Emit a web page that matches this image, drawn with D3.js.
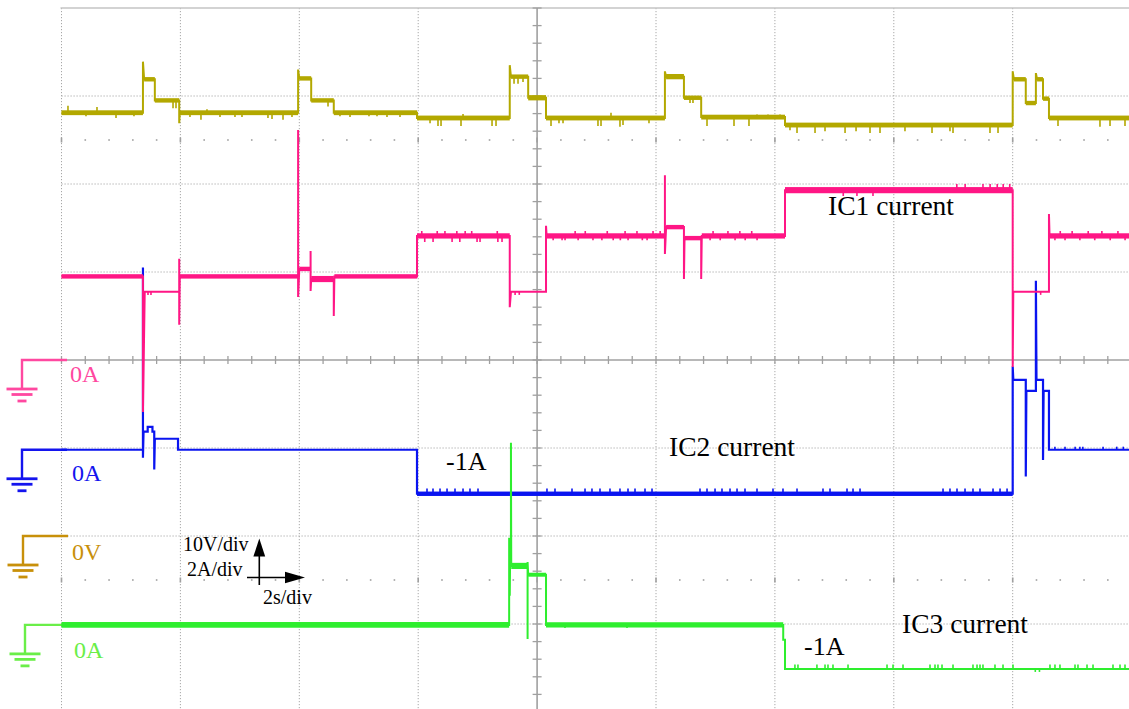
<!DOCTYPE html>
<html>
<head>
<meta charset="utf-8">
<script src="https://cdn.jsdelivr.net/npm/d3@7"></script>
<style>
  html, body { margin: 0; padding: 0; background: #fff; }
  svg { display: block; }
  text { font-family: "Liberation Serif", "Times New Roman", serif; }
</style>
</head>
<body>
<svg id="scope" width="1129" height="709"></svg>
<script>
// ---- Scope settings -------------------------------------------------------
const secPerDiv = 2;
const voltsPerDiv = 10;
const ampsPerDiv = 2;

// ---- Bus voltage [time s, volts] ------------------------------------------
const busVoltage = [
  [0, 48.1], [1.37, 48.1], [1.37, 53.9], [1.39, 51.9], [1.57, 51.9], [1.57, 49.5],
  [1.98, 49.5], [1.98, 46.9], [1.99, 48.1], [3.98, 48.1], [3.98, 53.0], [4.0, 52.0],
  [4.2, 52.0], [4.2, 49.5], [4.58, 49.5], [4.58, 48.1], [5.98, 48.1], [5.98, 47.5],
  [7.54, 47.5], [7.54, 53.5], [7.56, 52.2], [7.85, 52.2], [7.85, 49.8], [8.15, 49.8],
  [8.15, 47.5], [10.15, 47.5], [10.15, 52.8], [10.17, 52.2], [10.47, 52.2], [10.47, 49.8],
  [10.76, 49.8], [10.76, 47.6], [12.17, 47.6], [12.17, 46.7], [16.0, 46.7], [16.0, 52.8],
  [16.02, 51.9], [16.22, 51.9], [16.22, 49.2], [16.39, 49.2], [16.39, 52.6], [16.41, 51.9],
  [16.51, 51.9], [16.51, 49.7], [16.61, 49.7], [16.61, 47.5], [18, 47.5]
];
// ripple bands [from s, to s, peak-to-peak V]
const busRipple = [
  [0, 1.37, 0.55], [1.39, 1.57, 0.5], [1.57, 1.98, 0.5], [1.99, 3.98, 0.55], [4.0, 4.2, 0.5],
  [4.2, 4.58, 0.5], [4.58, 5.98, 0.55], [5.98, 7.54, 0.55], [7.56, 7.85, 0.5], [7.85, 8.15, 0.6],
  [8.15, 10.15, 0.55], [10.17, 10.47, 0.6], [10.47, 10.76, 0.5], [10.76, 12.17, 0.55],
  [12.17, 16.0, 0.55], [16.02, 16.22, 0.5], [16.22, 16.39, 0.5], [16.41, 16.51, 0.5],
  [16.51, 16.61, 0.5], [16.61, 18, 0.55]
];
// short glitches [time s, volts]
const busGlitches = [
  [0.109, 48.9], [0.412, 47.7], [0.597, 48.75], [0.917, 47.5], [1.219, 47.7],
  [1.876, 48.6], [1.926, 48.6], [2.161, 47.6], [2.346, 47.3], [2.447, 48.5], [2.666, 47.6],
  [2.918, 47.6], [3.036, 47.6], [3.473, 47.5], [3.541, 47.4], [3.726, 47.3], [3.877, 47.6],
  [4.483, 48.8], [4.684, 47.7], [4.853, 47.6], [5.172, 47.7], [5.307, 47.7], [5.475, 47.6],
  [5.694, 47.6], [6.199, 46.9], [6.333, 46.6], [6.384, 46.6], [6.720, 46.6], [6.754, 47.95],
  [7.242, 46.6], [7.309, 46.6], [7.612, 51.4], [7.679, 51.4], [7.763, 51.6],
  [8.234, 46.6], [8.368, 46.9], [8.436, 46.9], [9.024, 46.6], [9.075, 46.6], [9.243, 48.1],
  [9.394, 46.5], [9.445, 46.7], [9.882, 46.9], [10.572, 49.2], [10.622, 49.2],
  [10.858, 46.6], [11.312, 46.6], [11.564, 46.6], [11.699, 47.9], [11.884, 47.9], [12.086, 47.9],
  [12.254, 46.1], [12.372, 45.8], [12.675, 45.8], [12.843, 46.0], [13.180, 45.8], [13.365, 46.0],
  [13.600, 45.8], [13.768, 45.8], [14.188, 46.0], [14.643, 45.8], [14.945, 46.0], [14.996, 45.8],
  [15.618, 45.8], [15.753, 45.8], [16.762, 46.6], [17.468, 46.5], [17.637, 46.6], [17.889, 46.6]
];

// ---- IC1 current [time s, amps] -------------------------------------------
const ic1Current = [
  [0, 1.9], [1.37, 1.9], [1.37, -1.18], [1.40, 1.55], [1.98, 1.55], [1.98, 2.3], [1.98, 0.8],
  [1.99, 1.9], [3.98, 1.9], [3.98, 5.23], [3.98, 1.43], [4.0, 2.07], [4.19, 2.07], [4.19, 2.48],
  [4.19, 1.57], [4.2, 1.84], [4.58, 1.84], [4.58, 1.0], [4.59, 1.9], [5.98, 1.9], [5.98, 2.82],
  [7.54, 2.82], [7.54, 1.2], [7.56, 1.55], [8.15, 1.55], [8.15, 3.05], [8.16, 2.82],
  [10.15, 2.82], [10.15, 4.2], [10.15, 2.41], [10.17, 3.02], [10.47, 3.02], [10.47, 1.84],
  [10.48, 2.77], [10.76, 2.77], [10.76, 1.84], [10.77, 2.82], [12.17, 2.82], [12.17, 3.86],
  [16.0, 3.86], [16.0, -0.16], [16.01, 1.55], [16.61, 1.55], [16.61, 3.32], [16.62, 2.82],
  [18, 2.82]
];
const ic1Ripple = [
  [0, 1.37, 0.1], [1.99, 3.98, 0.1], [4.0, 4.19, 0.1], [4.2, 4.58, 0.14], [4.59, 5.98, 0.1],
  [5.98, 7.54, 0.12], [8.16, 10.15, 0.12], [10.17, 10.47, 0.1], [10.48, 10.76, 0.1],
  [10.77, 12.17, 0.12], [12.17, 16.0, 0.14], [16.62, 18, 0.12]
];
const ic1Glitches = [
  [1.455, 1.48], [1.505, 1.48],
  [6.06, 2.93], [6.11, 2.68], [6.25, 2.68], [6.32, 2.93], [6.45, 2.93], [6.57, 2.68],
  [6.65, 2.93], [6.70, 2.68], [6.79, 2.93], [6.90, 2.93], [6.99, 2.68], [7.04, 2.68],
  [7.33, 2.93], [7.34, 2.68], [7.41, 2.68], [7.63, 1.48], [7.70, 1.48],
  [8.27, 2.72], [8.42, 2.72], [8.47, 2.72], [8.64, 2.93], [8.69, 2.72], [8.81, 2.93],
  [8.94, 2.72], [9.09, 2.72], [9.18, 2.93], [9.28, 2.72], [9.40, 2.72], [9.48, 2.93],
  [9.53, 2.72], [9.68, 2.93], [9.77, 2.72], [9.85, 2.72], [9.95, 2.93], [10.07, 2.93],
  [10.91, 2.72], [10.96, 2.93], [11.08, 2.72], [11.21, 2.93], [11.33, 2.72], [11.41, 2.93],
  [11.50, 2.72], [11.61, 2.93], [11.70, 2.72],
  [13.15, 3.73], [13.38, 3.73], [13.65, 3.73], [15.06, 4.0], [15.20, 4.0], [15.50, 4.0],
  [15.62, 4.0], [15.74, 4.0], [15.84, 4.0], [15.95, 4.0], [16.47, 1.48],
  [16.71, 2.72], [16.80, 2.93], [16.88, 2.72], [17.00, 2.93], [17.13, 2.72], [17.27, 2.93],
  [17.38, 2.72], [17.50, 2.93], [17.64, 2.72], [17.77, 2.93], [17.89, 2.72]
];

// ---- IC2 current [time s, amps] -------------------------------------------
const ic2Current = [
  [0, 0], [1.37, 0], [1.37, 4.14], [1.37, -0.18], [1.38, 0.41], [1.45, 0.41], [1.45, 0.52],
  [1.53, 0.52], [1.53, 0.41], [1.56, 0.41], [1.56, -0.45], [1.57, 0.25], [1.96, 0.25],
  [1.96, 0], [5.98, 0], [5.98, -1], [16.0, -1], [16.0, 1.89], [16.01, 1.59], [16.22, 1.59],
  [16.22, -0.61], [16.23, 1.34], [16.39, 1.34], [16.39, 3.84], [16.40, 1.59], [16.51, 1.59],
  [16.51, -0.23], [16.52, 1.34], [16.61, 1.34], [16.61, 0], [18, 0]
];
const ic2Ripple = [[5.98, 16.0, 0.1]];
const ic2Glitches = [
  [6.148, -0.88], [6.249, -0.88], [6.367, -0.88], [6.485, -0.88], [6.619, -0.88], [6.754, -0.88],
  [6.871, -0.88], [7.006, -0.88], [8.166, -0.88], [8.301, -0.88], [8.587, -0.88], [8.806, -0.88],
  [8.923, -0.88], [9.058, -0.88], [9.226, -0.88], [9.394, -0.88], [9.529, -0.88], [9.647, -0.88],
  [9.815, -0.88], [9.933, -0.88], [10.740, -0.88], [10.858, -0.88], [10.993, -0.88],
  [11.110, -0.88], [11.245, -0.88], [11.363, -0.88], [11.497, -0.88], [11.699, -0.88],
  [11.968, -0.88], [12.136, -0.88], [12.372, -0.88], [12.809, -0.88], [12.927, -0.88],
  [13.213, -0.88], [13.314, -0.88], [13.432, -0.88], [14.828, -0.88], [14.945, -0.88],
  [15.063, -0.88], [15.198, -0.88], [15.332, -0.88], [15.450, -0.88], [15.669, -0.88],
  [15.787, -0.88], [15.905, -0.88],
  [16.71, 0.07], [16.88, 0.07], [17.05, 0.07], [17.13, 0.07], [17.18, 0.07], [17.52, 0.07],
  [17.75, 0.07], [17.86, 0.07]
];

// ---- IC3 current [time s, amps] -------------------------------------------
const ic3Current = [
  [0, 0], [7.53, 0], [7.53, 1.98], [7.54, 0.66], [7.545, 1.34], [7.56, 1.34], [7.56, 4.14],
  [7.565, 1.34], [7.84, 1.34], [7.84, -0.32], [7.84, 1.43], [7.85, 1.14], [8.15, 1.14],
  [8.15, 0], [12.14, 0], [12.14, -0.34], [12.17, -0.34], [12.17, -1], [18, -1]
];
const ic3Ripple = [[0, 7.53, 0.13], [7.565, 7.84, 0.14], [7.85, 8.15, 0.09], [8.15, 12.14, 0.12]];
const ic3Glitches = [
  [8.469, -0.07], [9.512, -0.07],
  [12.337, -0.9], [12.388, -0.9], [12.707, -0.9], [12.843, -0.9], [12.893, -0.9], [12.977, -0.9],
  [13.230, -0.9], [13.886, -0.9], [13.987, -0.9], [14.155, -0.9], [14.609, -0.9], [14.693, -0.9],
  [14.743, -0.9], [14.811, -0.9], [14.996, -0.9], [15.332, -0.9], [15.400, -0.9], [15.450, -0.9],
  [15.500, -0.9], [15.702, -0.9], [15.837, -0.9], [16.005, -0.9], [16.38, -1.07], [16.45, -1.07],
  [16.627, -0.9], [16.711, -0.9], [16.795, -0.9], [17.048, -0.9], [17.098, -0.9], [17.250, -0.9],
  [17.351, -0.9], [17.687, -0.9], [17.805, -0.9], [17.889, -0.9]
];

// ---- Annotation texts ------------------------------------------------------
const traceNames = ["IC1 current", "IC2 current", "IC3 current"];
const levelLabel = "-1A";
const scaleLabels = ["10V/div", "2A/div", "2s/div"];

// ---- Layout ----------------------------------------------------------------
const svg = d3.select("#scope");
const W = 1129, H = 709;
const plotLeft = 61.5, divW = 59.45 * secPerDiv;   // px per horizontal division
const x = d3.scaleLinear().domain([0, 18]).range([plotLeft, plotLeft + 18 * divW / secPerDiv]);
const yDiv = d3.scaleLinear().domain([-4, 4]).range([712, 8]);   // screen divisions

const channels = [
  { data: busVoltage, ripple: busRipple, glitches: busGlitches, perDiv: voltsPerDiv, offset: -2,
    color: "#B3A800", mark: "#C8900A", zeroLabel: "0V", markX: 23, labelDx: 49, labelDy: 24, width: 2 },
  { data: ic2Current, ripple: ic2Ripple, glitches: ic2Glitches, perDiv: ampsPerDiv, offset: -1.02,
    color: "#0A14F0", mark: "#1414EE", zeroLabel: "0A", markX: 22, labelDx: 50, labelDy: 31, width: 2.2 },
  { data: ic1Current, ripple: ic1Ripple, glitches: ic1Glitches, perDiv: ampsPerDiv, offset: 0,
    color: "#FF1685", mark: "#FF48A0", zeroLabel: "0A", markX: 22, labelDx: 48, labelDy: 22, width: 2 },
  { data: ic3Current, ripple: ic3Ripple, glitches: ic3Glitches, perDiv: ampsPerDiv, offset: -3.01,
    color: "#2EEE2E", mark: "#6AEE48", zeroLabel: "0A", markX: 25, labelDx: 49, labelDy: 33, width: 2 }
];
channels.forEach(c => { c.y = v => yDiv(c.offset + v / c.perDiv); });

svg.append("rect").attr("width", W).attr("height", H).attr("fill", "#fff");

// ---- Graticule -------------------------------------------------------------
const grid = svg.append("g");
const gridColor = "#A8A8A8";
const majorT = d3.range(0, 18.01, secPerDiv);
const majorDiv = [3, 2, 1, -1, -2, -3];

grid.selectAll("line.vgrid").data(majorT.filter(t => t !== 8)).join("line")
  .attr("x1", d => x(d)).attr("x2", d => x(d)).attr("y1", yDiv(4)).attr("y2", H)
  .attr("stroke", gridColor).attr("stroke-width", 1).attr("stroke-dasharray", "1.2,1.8");
grid.selectAll("line.hgrid").data(majorDiv).join("line")
  .attr("x1", plotLeft).attr("x2", W).attr("y1", d => yDiv(d)).attr("y2", d => yDiv(d))
  .attr("stroke", gridColor).attr("stroke-width", 1).attr("stroke-dasharray", "1.2,1.8");

// top frame
grid.append("line").attr("x1", plotLeft - 1).attr("x2", W).attr("y1", yDiv(4)).attr("y2", yDiv(4))
  .attr("stroke", "#C4C4C4").attr("stroke-width", 1.6);

// centre axes with minor ticks
const axisColor = "#A0A0A0";
grid.append("line").attr("x1", plotLeft).attr("x2", W).attr("y1", yDiv(0)).attr("y2", yDiv(0))
  .attr("stroke", axisColor).attr("stroke-width", 1.6);
grid.append("line").attr("x1", x(8)).attr("x2", x(8)).attr("y1", yDiv(4)).attr("y2", H)
  .attr("stroke", axisColor).attr("stroke-width", 1.6);
const minorT = d3.range(0, 18.01, secPerDiv / 5);
grid.selectAll("line.xtick").data(minorT).join("line")
  .attr("x1", d => x(d)).attr("x2", d => x(d)).attr("y1", yDiv(0) - 4).attr("y2", yDiv(0) + 4)
  .attr("stroke", axisColor).attr("stroke-width", 1.3);
const minorDiv = d3.range(-20, 20.5, 1).map(k => k / 5);
grid.selectAll("line.ytick").data(minorDiv).join("line")
  .attr("x1", x(8) - 4.5).attr("x2", x(8) + 4.5).attr("y1", d => yDiv(d)).attr("y2", d => yDiv(d))
  .attr("stroke", axisColor).attr("stroke-width", 1.3);

// half-division dot rows
[2.5, -2.5].forEach(r => {
  grid.selectAll(null).data(minorT).join("rect")
    .attr("x", d => x(d) - 0.8).attr("y", d => yDiv(r) - (d % secPerDiv === 0 ? 2.5 : 0.8))
    .attr("width", 1.6).attr("height", d => d % secPerDiv === 0 ? 5 : 1.6)
    .attr("fill", "#A0A0A0");
});

// ---- Ground reference markers ------------------------------------------
const markers = svg.append("g");
channels.forEach(c => {
  const y0 = c.y(0), mx = c.markX, bottom = y0 + 29;
  const g = markers.append("g").attr("stroke", c.mark).attr("fill", "none");
  g.append("path").attr("d", `M${mx + 45},${y0}H${mx}V${bottom}`).attr("stroke-width", 2.4);
  [[15.5, 0], [10.5, 5.5], [4.5, 12]].forEach(([hw, dy]) => {
    g.append("line").attr("x1", mx - hw).attr("x2", mx + hw)
      .attr("y1", bottom + dy).attr("y2", bottom + dy).attr("stroke-width", 2.8);
  });
  markers.append("text").attr("x", mx + c.labelDx).attr("y", y0 + c.labelDy)
    .attr("fill", c.mark).attr("font-size", 24).text(c.zeroLabel);
});

// ---- Traces --------------------------------------------------------------
svg.append("defs").append("clipPath").attr("id", "plotClip")
  .append("rect").attr("x", plotLeft - 1).attr("y", yDiv(4)).attr("width", W - plotLeft + 1).attr("height", H);
const traces = svg.append("g").attr("clip-path", "url(#plotClip)");
const bis = d3.bisector(d => d[0]).right;

channels.forEach(c => {
  const levelAt = t => c.data[Math.max(0, bis(c.data, t) - 1)][1];
  const g = traces.append("g");
  g.selectAll("rect").data(c.ripple).join("rect")
    .attr("x", d => x(d[0])).attr("width", d => x(d[1]) - x(d[0]))
    .attr("y", d => c.y(levelAt((d[0] + d[1]) / 2) + d[2] / 2))
    .attr("height", d => c.y(levelAt((d[0] + d[1]) / 2) - d[2] / 2) - c.y(levelAt((d[0] + d[1]) / 2) + d[2] / 2))
    .attr("fill", c.color);
  g.append("path").datum(c.data)
    .attr("d", d3.line().x(d => x(d[0])).y(d => c.y(d[1])))
    .attr("fill", "none").attr("stroke", c.color).attr("stroke-width", c.width)
    .attr("stroke-linejoin", "miter");
  g.selectAll("line").data(c.glitches).join("line")
    .attr("x1", d => x(d[0])).attr("x2", d => x(d[0]))
    .attr("y1", d => c.y(levelAt(d[0]))).attr("y2", d => c.y(d[1]))
    .attr("stroke", c.color).attr("stroke-width", 1.6);
});

// ---- Annotations -----------------------------------------------------------
const notes = svg.append("g").attr("fill", "#000");
const ic1 = channels[2], ic2 = channels[1], ic3 = channels[3];
notes.append("text").attr("x", 828).attr("y", ic1.y(3.3)).attr("font-size", 27.5).text(traceNames[0]);
notes.append("text").attr("x", 669).attr("y", ic2.y(-0.14)).attr("font-size", 27.5).text(traceNames[1]);
notes.append("text").attr("x", 902).attr("y", ic3.y(-0.19)).attr("font-size", 27.5).text(traceNames[2]);
notes.append("text").attr("x", 446).attr("y", ic2.y(-0.46)).attr("font-size", 26).text(levelLabel);
notes.append("text").attr("x", 804).attr("y", ic3.y(-0.68)).attr("font-size", 26).text(levelLabel);

// scale legend with axis arrows
const leg = svg.append("g");
leg.append("text").attr("x", 183).attr("y", 551).attr("font-size", 20).text(scaleLabels[0]);
leg.append("text").attr("x", 187).attr("y", 576).attr("font-size", 20).text(scaleLabels[1]);
leg.append("text").attr("x", 263).attr("y", 604).attr("font-size", 20).text(scaleLabels[2]);
leg.append("line").attr("x1", 259.3).attr("x2", 259.3).attr("y1", 585).attr("y2", 552)
  .attr("stroke", "#000").attr("stroke-width", 1.6);
leg.append("path").attr("d", "M259.3,538.5L253.4,556.5L265.2,556.5Z").attr("fill", "#000");
leg.append("line").attr("x1", 247).attr("x2", 290).attr("y1", 577.5).attr("y2", 577.5)
  .attr("stroke", "#000").attr("stroke-width", 1.6);
leg.append("path").attr("d", "M305,577.5L285,571.7L285,583.3Z").attr("fill", "#000");
</script>
</body>
</html>
